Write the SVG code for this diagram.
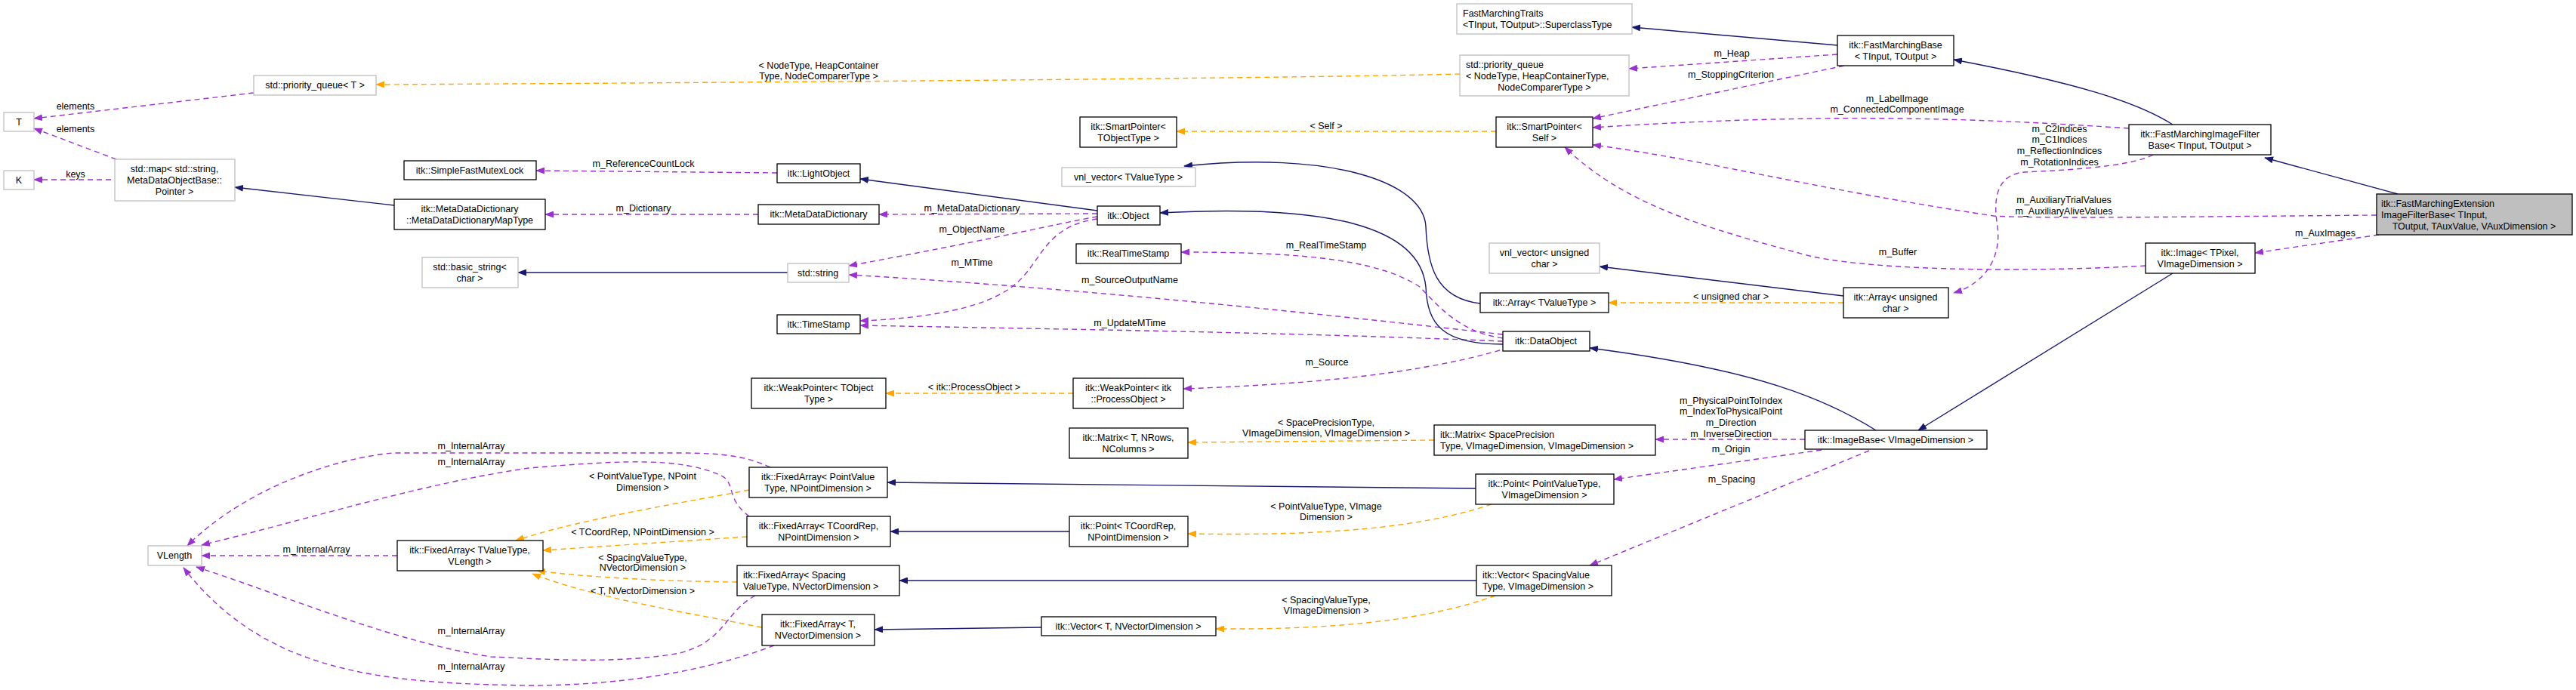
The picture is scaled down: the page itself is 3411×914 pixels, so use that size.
<svg xmlns="http://www.w3.org/2000/svg" width="3411" height="914" viewBox="0 0 3411 914">
<style>
text{font-family:"Liberation Sans",Arial,sans-serif;font-size:12.5px;fill:#000}
.n text{text-anchor:middle}
.b{fill:#fff;stroke:#000;stroke-width:1.3}
.g{fill:#fff;stroke:#bfbfbf;stroke-width:1.3}
.m{fill:#bfbfbf;stroke:#000;stroke-width:1.3}
.inh{fill:none;stroke:#191970;stroke-width:1.4;marker-end:url(#an)}
.use{fill:none;stroke:#9a32cd;stroke-width:1.4;stroke-dasharray:7,5;marker-end:url(#ap)}
.tpl{fill:none;stroke:#ffa500;stroke-width:1.4;stroke-dasharray:7,5;marker-end:url(#ao)}
.l{text-anchor:middle}
</style>
<defs>
<marker id="an" markerWidth="12" markerHeight="9" refX="11" refY="4.5" orient="auto" markerUnits="userSpaceOnUse"><path d="M0,0L12,4.5L0,9z" fill="#191970"/></marker>
<marker id="ap" markerWidth="12" markerHeight="9" refX="11" refY="4.5" orient="auto" markerUnits="userSpaceOnUse"><path d="M0,0L12,4.5L0,9z" fill="#9a32cd"/></marker>
<marker id="ao" markerWidth="12" markerHeight="9" refX="11" refY="4.5" orient="auto" markerUnits="userSpaceOnUse"><path d="M0,0L12,4.5L0,9z" fill="#ffa500"/></marker>
</defs>
<rect width="3411" height="914" fill="#fff"/>
<g id="connectors">
<path class="use" d="M336,123 L45,157"/>
<path class="use" d="M154,211 L45,170"/>
<path class="use" d="M147,238 L45,238"/>
<path class="tpl" d="M1933,98 C1700,104 900,110 498,112"/>
<path class="inh" d="M522,272 L311,248"/>
<path class="use" d="M1029,229 L710,226"/>
<path class="use" d="M1004,284 L722,284"/>
<path class="inh" d="M1043,361 L686,361"/>
<path class="inh" d="M1453,279 L1139,237"/>
<path class="use" d="M1453,283 L1164,284"/>
<path class="use" d="M1453,287 C1420,292 1300,320 1124,352"/>
<path class="use" d="M1453,290 C1380,300 1380,350 1340,380 C1300,410 1220,422 1139,425"/>
<path class="use" d="M1990,443 C1700,410 1400,380 1124,364"/>
<path class="use" d="M1990,452 C1700,440 1400,436 1139,431"/>
<path class="tpl" d="M1981,174 L1558,174"/>
<path class="inh" d="M1960,402 C1900,395 1890,350 1888,300 C1885,240 1760,200 1568,220"/>
<path class="inh" d="M1990,456 C1910,456 1890,430 1888,380 C1880,300 1760,270 1536,282"/>
<path class="use" d="M1990,448 C1930,440 1900,400 1880,380 C1820,340 1700,334 1564,334"/>
<path class="use" d="M1986,464 C1860,500 1700,510 1567,515"/>
<path class="tpl" d="M1421,521 L1173,521"/>
<path class="inh" d="M2433,60 L2161,36"/>
<path class="use" d="M2433,72 L2157,91"/>
<path class="use" d="M2442,87 L2109,157"/>
<path class="inh" d="M2877,165 C2830,135 2750,110 2587,79"/>
<path class="use" d="M2819,170 C2600,155 2400,150 2109,169"/>
<path class="use" d="M3147,285 C2900,287 2700,290 2640,286 C2400,250 2250,210 2109,192"/>
<path class="use" d="M2841,352 C2700,360 2500,360 2400,340 C2250,300 2150,270 2072,195"/>
<path class="use" d="M2851,205 C2820,222 2720,226 2680,228 C2640,232 2640,270 2645,300 C2650,340 2630,375 2587,388"/>
<path class="inh" d="M2441,392 L2118,353"/>
<path class="tpl" d="M2441,401 L2130,401"/>
<path class="inh" d="M3175,257 L2999,209"/>
<path class="use" d="M3150,311 L2986,335"/>
<path class="inh" d="M2877,362 L2540,570"/>
<path class="inh" d="M2484,570 C2420,530 2330,490 2105,461"/>
<path class="use" d="M2390,582 L2192,582"/>
<path class="use" d="M2412,596 L2137,635"/>
<path class="use" d="M2475,597 L2105,749"/>
<path class="tpl" d="M1899,583 L1573,586"/>
<path class="tpl" d="M1975,668 C1880,700 1750,710 1573,707"/>
<path class="tpl" d="M1980,789 C1880,825 1750,834 1610,833"/>
<path class="inh" d="M1954,647 L1175,639"/>
<path class="inh" d="M1416,704 L1179,704"/>
<path class="inh" d="M1955,769 L1191,769"/>
<path class="inh" d="M1379,831 L1158,834"/>
<path class="tpl" d="M992,649 C880,670 760,690 683,716"/>
<path class="tpl" d="M989,711 L719,729"/>
<path class="tpl" d="M976,771 C880,770 780,765 711,756"/>
<path class="tpl" d="M1009,831 C900,810 780,790 705,760"/>
<path class="use" d="M526,736 L267,736"/>
<path class="use" d="M1020,619 C990,605 960,600 900,600 L520,600 C420,610 310,660 248,723"/>
<path class="use" d="M992,684 C960,660 975,640 955,630 C900,605 820,610 700,620 C560,640 400,690 267,722"/>
<path class="use" d="M1000,789 C960,810 960,850 900,865 C820,880 720,873 650,870 C520,850 380,790 260,751"/>
<path class="use" d="M1025,855 C960,880 850,908 700,908 C500,905 350,890 243,752"/>
</g>
<g id="labels">
<text class="l" x="100" y="145">elements</text>
<text class="l" x="100" y="175">elements</text>
<text class="l" x="100" y="235">keys</text>
<text class="l" x="1084" y="91">&lt; NodeType, HeapContainer</text>
<text class="l" x="1084" y="105">Type, NodeComparerType &gt;</text>
<text class="l" x="852" y="221">m_ReferenceCountLock</text>
<text class="l" x="852" y="280">m_Dictionary</text>
<text class="l" x="1287" y="280">m_MetaDataDictionary</text>
<text class="l" x="1287" y="308">m_ObjectName</text>
<text class="l" x="1287" y="352">m_MTime</text>
<text class="l" x="1756" y="171">&lt; Self &gt;</text>
<text class="l" x="1756" y="329">m_RealTimeStamp</text>
<text class="l" x="1496" y="375">m_SourceOutputName</text>
<text class="l" x="1496" y="432">m_UpdateMTime</text>
<text class="l" x="2293" y="75">m_Heap</text>
<text class="l" x="2292" y="103">m_StoppingCriterion</text>
<text class="l" x="2512" y="135">m_LabelImage</text>
<text class="l" x="2512" y="149">m_ConnectedComponentImage</text>
<text class="l" x="2727" y="175">m_C2Indices</text>
<text class="l" x="2727" y="189">m_C1Indices</text>
<text class="l" x="2727" y="204">m_ReflectionIndices</text>
<text class="l" x="2727" y="219">m_RotationIndices</text>
<text class="l" x="2733" y="269">m_AuxiliaryTrialValues</text>
<text class="l" x="2733" y="284">m_AuxiliaryAliveValues</text>
<text class="l" x="2513" y="338">m_Buffer</text>
<text class="l" x="2292" y="397">&lt; unsigned char &gt;</text>
<text class="l" x="3079" y="313">m_AuxImages</text>
<text class="l" x="2292" y="535">m_PhysicalPointToIndex</text>
<text class="l" x="2292" y="549">m_IndexToPhysicalPoint</text>
<text class="l" x="2292" y="564">m_Direction</text>
<text class="l" x="2292" y="579">m_InverseDirection</text>
<text class="l" x="2292" y="599">m_Origin</text>
<text class="l" x="2293" y="639">m_Spacing</text>
<text class="l" x="1757" y="484">m_Source</text>
<text class="l" x="1290" y="517">&lt; itk::ProcessObject &gt;</text>
<text class="l" x="1756" y="564">&lt; SpacePrecisionType,</text>
<text class="l" x="1756" y="578">VImageDimension, VImageDimension &gt;</text>
<text class="l" x="1756" y="675">&lt; PointValueType, VImage</text>
<text class="l" x="1756" y="689">Dimension &gt;</text>
<text class="l" x="1756" y="799">&lt; SpacingValueType,</text>
<text class="l" x="1756" y="813">VImageDimension &gt;</text>
<text class="l" x="851" y="635">&lt; PointValueType, NPoint</text>
<text class="l" x="851" y="650">Dimension &gt;</text>
<text class="l" x="851" y="709">&lt; TCoordRep, NPointDimension &gt;</text>
<text class="l" x="851" y="743">&lt; SpacingValueType,</text>
<text class="l" x="851" y="756">NVectorDimension &gt;</text>
<text class="l" x="851" y="787">&lt; T, NVectorDimension &gt;</text>
<text class="l" x="419" y="732">m_InternalArray</text>
<text class="l" x="624" y="595">m_InternalArray</text>
<text class="l" x="624" y="616">m_InternalArray</text>
<text class="l" x="624" y="840">m_InternalArray</text>
<text class="l" x="624" y="887">m_InternalArray</text>
</g>
<g id="T" class="n"><rect class="g" x="5" y="149" width="40" height="25"/><text x="25" y="166">T</text></g>
<g id="K" class="n"><rect class="g" x="5" y="226" width="40" height="25"/><text x="25" y="243">K</text></g>
<g id="stdmap" class="n"><rect class="g" x="152" y="211" width="159" height="55"/><text x="231" y="228">std::map&lt; std::string,</text><text x="231" y="243">MetaDataObjectBase::</text><text x="231" y="258">Pointer &gt;</text></g>
<g id="pqT" class="n"><rect class="g" x="336" y="100" width="162" height="26"/><text x="417" y="117">std::priority_queue&lt; T &gt;</text></g>
<g id="mutex" class="n"><rect class="b" x="535" y="213" width="175" height="25"/><text x="622" y="230">itk::SimpleFastMutexLock</text></g>
<g id="maptype" class="n"><rect class="b" x="522" y="264" width="200" height="40"/><text x="622" y="281">itk::MetaDataDictionary</text><text x="622" y="296">::MetaDataDictionaryMapType</text></g>
<g id="basicstring" class="n"><rect class="g" x="559" y="341" width="127" height="40"/><text x="622" y="358">std::basic_string&lt;</text><text x="622" y="373">char &gt;</text></g>
<g id="lightobject" class="n"><rect class="b" x="1029" y="217" width="110" height="25"/><text x="1084" y="234">itk::LightObject</text></g>
<g id="mdd" class="n"><rect class="b" x="1004" y="271" width="160" height="26"/><text x="1084" y="288">itk::MetaDataDictionary</text></g>
<g id="stdstring" class="n"><rect class="g" x="1043" y="349" width="81" height="25"/><text x="1083" y="366">std::string</text></g>
<g id="timestamp" class="n"><rect class="b" x="1029" y="417" width="110" height="25"/><text x="1084" y="434">itk::TimeStamp</text></g>
<g id="traits" class="n"><rect class="g" x="1929" y="5" width="232" height="40"/><text x="1937" y="22" style="text-anchor:start">FastMarchingTraits</text><text x="1937" y="37" style="text-anchor:start">&lt;TInput, TOutput&gt;::SuperclassType</text></g>
<g id="pqNode" class="n"><rect class="g" x="1933" y="73" width="224" height="54"/><text x="1941" y="90" style="text-anchor:start">std::priority_queue</text><text x="1941" y="105" style="text-anchor:start">&lt; NodeType, HeapContainerType,</text><text x="2045" y="120">NodeComparerType &gt;</text></g>
<g id="spT" class="n"><rect class="b" x="1430" y="155" width="128" height="40"/><text x="1494" y="172">itk::SmartPointer&lt;</text><text x="1494" y="187">TObjectType &gt;</text></g>
<g id="spSelf" class="n"><rect class="b" x="1981" y="155" width="128" height="40"/><text x="2045" y="172">itk::SmartPointer&lt;</text><text x="2045" y="187">Self &gt;</text></g>
<g id="vnlT" class="n"><rect class="g" x="1406" y="222" width="177" height="25"/><text x="1494" y="239">vnl_vector&lt; TValueType &gt;</text></g>
<g id="object" class="n"><rect class="b" x="1453" y="273" width="83" height="25"/><text x="1494" y="290">itk::Object</text></g>
<g id="realtimestamp" class="n"><rect class="b" x="1425" y="323" width="139" height="26"/><text x="1494" y="340">itk::RealTimeStamp</text></g>
<g id="vnlUC" class="n"><rect class="g" x="1972" y="322" width="146" height="40"/><text x="2045" y="339">vnl_vector&lt; unsigned</text><text x="2045" y="354">char &gt;</text></g>
<g id="arrayT" class="n"><rect class="b" x="1960" y="388" width="170" height="26"/><text x="2045" y="405">itk::Array&lt; TValueType &gt;</text></g>
<g id="dataobject" class="n"><rect class="b" x="1990" y="439" width="115" height="26"/><text x="2047" y="456">itk::DataObject</text></g>
<g id="fmbase" class="n"><rect class="b" x="2433" y="47" width="154" height="40"/><text x="2510" y="64">itk::FastMarchingBase</text><text x="2510" y="79">&lt; TInput, TOutput &gt;</text></g>
<g id="arrayUC" class="n"><rect class="b" x="2441" y="381" width="139" height="40"/><text x="2510" y="398">itk::Array&lt; unsigned</text><text x="2510" y="413">char &gt;</text></g>
<g id="fmifb" class="n"><rect class="b" x="2819" y="165" width="188" height="40"/><text x="2913" y="182">itk::FastMarchingImageFilter</text><text x="2913" y="197">Base&lt; TInput, TOutput &gt;</text></g>
<g id="main" class="n"><rect class="m" x="3147" y="257" width="259" height="54"/><text x="3153" y="274" style="text-anchor:start">itk::FastMarchingExtension</text><text x="3153" y="289" style="text-anchor:start">ImageFilterBase&lt; TInput,</text><text x="3276" y="304">TOutput, TAuxValue, VAuxDimension &gt;</text></g>
<g id="image" class="n"><rect class="b" x="2841" y="322" width="145" height="40"/><text x="2913" y="339">itk::Image&lt; TPixel,</text><text x="2913" y="354">VImageDimension &gt;</text></g>
<g id="imagebase" class="n"><rect class="b" x="2390" y="570" width="241" height="25"/><text x="2510" y="587">itk::ImageBase&lt; VImageDimension &gt;</text></g>
<g id="matrixS" class="n"><rect class="b" x="1899" y="563" width="293" height="40"/><text x="1907" y="580" style="text-anchor:start">itk::Matrix&lt; SpacePrecision</text><text x="1907" y="595" style="text-anchor:start">Type, VImageDimension, VImageDimension &gt;</text></g>
<g id="pointPV" class="n"><rect class="b" x="1954" y="628" width="183" height="40"/><text x="2045" y="645">itk::Point&lt; PointValueType,</text><text x="2045" y="660">VImageDimension &gt;</text></g>
<g id="vectorS" class="n"><rect class="b" x="1955" y="749" width="179" height="40"/><text x="1963" y="766" style="text-anchor:start">itk::Vector&lt; SpacingValue</text><text x="1963" y="781" style="text-anchor:start">Type, VImageDimension &gt;</text></g>
<g id="weakptrPO" class="n"><rect class="b" x="1421" y="501" width="146" height="40"/><text x="1494" y="518">itk::WeakPointer&lt; itk</text><text x="1494" y="533">::ProcessObject &gt;</text></g>
<g id="weakptrT" class="n"><rect class="b" x="995" y="501" width="178" height="40"/><text x="1084" y="518">itk::WeakPointer&lt; TObject</text><text x="1084" y="533">Type &gt;</text></g>
<g id="matrixT" class="n"><rect class="b" x="1416" y="567" width="157" height="40"/><text x="1494" y="584">itk::Matrix&lt; T, NRows,</text><text x="1494" y="599">NColumns &gt;</text></g>
<g id="pointTC" class="n"><rect class="b" x="1416" y="684" width="157" height="40"/><text x="1494" y="701">itk::Point&lt; TCoordRep,</text><text x="1494" y="716">NPointDimension &gt;</text></g>
<g id="vectorT" class="n"><rect class="b" x="1379" y="817" width="231" height="25"/><text x="1494" y="834">itk::Vector&lt; T, NVectorDimension &gt;</text></g>
<g id="faPV" class="n"><rect class="b" x="992" y="619" width="183" height="40"/><text x="1083" y="636">itk::FixedArray&lt; PointValue</text><text x="1083" y="651">Type, NPointDimension &gt;</text></g>
<g id="faTC" class="n"><rect class="b" x="989" y="684" width="190" height="40"/><text x="1084" y="701">itk::FixedArray&lt; TCoordRep,</text><text x="1084" y="716">NPointDimension &gt;</text></g>
<g id="faS" class="n"><rect class="b" x="976" y="749" width="215" height="40"/><text x="984" y="766" style="text-anchor:start">itk::FixedArray&lt; Spacing</text><text x="984" y="781" style="text-anchor:start">ValueType, NVectorDimension &gt;</text></g>
<g id="faT" class="n"><rect class="b" x="1009" y="814" width="149" height="41"/><text x="1083" y="831">itk::FixedArray&lt; T,</text><text x="1083" y="846">NVectorDimension &gt;</text></g>
<g id="faTV" class="n"><rect class="b" x="526" y="716" width="193" height="40"/><text x="622" y="733">itk::FixedArray&lt; TValueType,</text><text x="622" y="748">VLength &gt;</text></g>
<g id="vlength" class="n"><rect class="g" x="196" y="723" width="71" height="26"/><text x="231" y="740">VLength</text></g>
</svg>
